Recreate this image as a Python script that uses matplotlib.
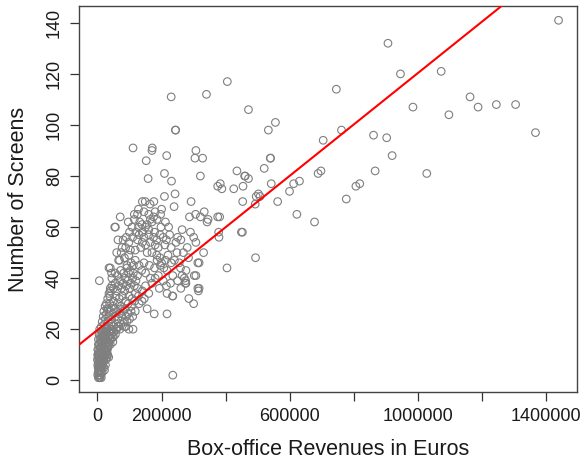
import numpy as np
import matplotlib
matplotlib.use("Agg")
import matplotlib.pyplot as plt
from matplotlib.ticker import FixedLocator, FixedFormatter

# ---- data (revenue in thousands of euros, screens) ----
sparse_rev_k = [1438, 906, 745, 945, 1072, 1162, 1187, 1244, 1304, 984, 1096, 1366, 761, 704, 861, 902,
                919, 1027, 866, 688, 697, 806, 818, 776, 622, 677, 612, 630, 599, 493, 452]
sparse_scr = [141, 132, 114, 120, 121, 111, 107, 108, 108, 107, 104, 97, 98, 94, 96, 95,
              88, 81, 82, 81, 82, 76, 77, 71, 65, 62, 77, 78, 74, 48, 58]

mid_rev_k = [405, 230, 340, 471, 555, 533, 243, 244, 111, 171, 170, 307, 216, 304, 328, 152, 539, 540,
             209, 321, 158, 231, 435, 459, 471, 461, 454, 520, 542, 383, 375, 388, 425, 502, 495, 507,
             209, 242, 453, 562, 492, 292, 239, 140, 149, 164, 115, 125, 71, 54, 200, 197, 306, 321,
             333, 287, 375, 381, 342, 345, 165, 170, 175, 132, 139, 155, 186, 212, 449, 378, 379, 264,
             404, 331, 307, 313, 307, 313, 284, 276, 271, 276, 235, 235, 217, 235, 248, 177, 234, 217,
             193, 274, 275, 302, 315, 317, 146, 155, 118, 139, 317, 200, 207, 217, 259, 264, 186, 6,
             36, 44, 69, 84, 98, 111, 56, 98, 77, 103, 98, 118, 66, 40]
mid_scr = [117, 111, 112, 106, 101, 98, 98, 98, 91, 91, 90, 90, 88, 87, 87, 86, 87, 87,
           81, 80, 79, 78, 82, 80, 79, 80, 76, 83, 77, 77, 76, 75, 75, 73, 72, 72,
           72, 73, 70, 70, 69, 70, 68, 70, 70, 69, 65, 65, 64, 60, 67, 65, 65, 64,
           66, 64, 64, 64, 62, 63, 63, 62, 64, 62, 61, 61, 63, 62, 58, 58, 56, 59,
           44, 50, 54, 46, 41, 36, 48, 43, 40, 38, 41, 33, 26, 2, 50, 26, 33, 34,
           36, 38, 39, 41, 35, 36, 32, 28, 27, 31, 46, 46, 44, 43, 44, 41, 47, 39,
           44, 42, 47, 21, 20, 20, 60, 54, 52, 51, 49, 51, 47, 44]

upper_rev_k = [120, 130, 145, 160, 175, 185, 195, 205, 215, 225, 250, 260, 140, 150, 165, 180, 190, 210,
               230, 245, 125, 135, 155, 170, 185, 195, 220, 240, 255, 110, 100, 90, 80, 150, 160, 178,
               198, 222, 128, 140, 290, 300, 280, 268, 230, 212, 196, 178, 162, 145, 130, 118, 105, 92,
               84, 74, 88, 60, 64, 96, 108, 115, 145, 180, 160, 176, 128, 86, 97, 112, 125, 138, 150,
               165, 180, 190, 205, 215, 228, 250, 260, 285, 300]
upper_scr = [58, 57, 56, 57, 56, 55, 57, 56, 55, 57, 56, 55, 54, 53, 54, 53, 52, 53,
             52, 54, 55, 52, 50, 50, 49, 48, 49, 47, 46, 56, 58, 56, 55, 60, 59, 58,
             60, 60, 60, 58, 58, 56, 52, 50, 46, 47, 45, 44, 45, 46, 45, 47, 46, 45,
             48, 50, 52, 50, 55, 62, 60, 63, 66, 66, 65, 70, 67, 40, 42, 42, 41, 43, 42,
             40, 40, 41, 39, 37, 38, 39, 36, 32, 30]

dense_rev_k = [28, 32, 36, 40, 38, 40, 45, 50, 55, 60, 65, 70, 75, 80, 85, 90, 95, 100, 105, 110, 115,
               120, 125, 45, 55, 62, 72, 82, 92, 102, 112, 50, 58, 68, 78, 88, 98, 108, 118, 128, 38,
               48, 62, 74, 86, 96, 106, 116, 130, 140, 150, 160, 170,
               12, 15, 18, 22, 25, 28, 30, 33, 36, 40, 44, 48, 52, 56, 60, 64, 68, 72, 76, 80, 84, 90,
               95, 100, 105, 110, 20, 24, 34, 42, 50, 58, 66, 74, 88, 92, 60, 70, 40, 30,
               2, 4, 6, 8, 10, 12, 14, 16, 18, 20, 22, 24, 26, 28, 30, 32, 34, 36, 38, 40, 42, 44, 46,
               48, 50, 3, 5, 7, 9, 11, 13, 15, 17, 19, 21, 23, 25, 27, 29, 31, 35, 39, 43, 47, 52, 56,
               58, 1, 3, 5, 8, 10, 12, 14, 16, 18, 20, 22, 24, 26, 28, 30, 33, 37, 41,
               1, 2, 3, 4, 5, 6, 7, 8, 9, 10, 11, 12, 13, 14, 15, 16, 17, 18, 19, 20, 2, 3, 4, 5, 6,
               7, 8, 9, 10, 11, 12, 14, 16, 18, 22, 24, 26, 28, 30, 1, 0, 1, 2, 4, 6, 8, 10, 12, 15,
               20, 25, 22, 32, 35]
dense_scr = [30, 32, 34, 36, 33, 35, 37, 36, 38, 35, 37, 39, 36, 38, 35, 37, 39, 36, 38, 40, 37,
             39, 36, 40, 42, 41, 43, 42, 44, 43, 45, 31, 33, 32, 33, 31, 33, 32, 34, 33, 30,
             29, 30, 29, 28, 30, 29, 31, 30, 35, 37, 34, 38,
             21, 23, 25, 22, 24, 26, 28, 23, 25, 27, 24, 26, 28, 25, 27, 24, 26, 28, 25, 27, 23, 25,
             26, 24, 27, 25, 27, 29, 28, 22, 21, 22, 21, 22, 21, 23, 20, 20, 20, 21,
             10, 12, 14, 16, 18, 11, 13, 15, 17, 19, 12, 14, 16, 18, 20, 13, 15, 17, 19, 14, 16, 18, 20,
             15, 17, 16, 18, 20, 11, 13, 15, 17, 19, 12, 14, 16, 18, 20, 11, 12, 14, 16, 19, 17, 19, 18,
             20, 12, 14, 11, 13, 15, 17, 19, 11, 13, 15, 17, 19, 11, 13, 15, 17, 19, 20,
             2, 3, 1, 4, 2, 5, 3, 6, 4, 7, 5, 8, 6, 9, 7, 10, 8, 9, 10, 8, 5, 7, 9, 6, 8,
             10, 2, 3, 4, 6, 3, 5, 6, 7, 9, 10, 8, 10, 9, 6, 8, 10, 9, 7, 1, 1, 2, 1, 3,
             5, 6, 4, 10, 9]

revenue = np.array(sparse_rev_k + mid_rev_k + upper_rev_k + dense_rev_k, dtype=float) * 1000
screens = np.array(sparse_scr + mid_scr + upper_scr + dense_scr, dtype=float)

fit_intercept = 19.7
fit_slope = 1.007e-4

x_ticks = [0, 200000, 400000, 600000, 800000, 1000000, 1200000, 1400000]
x_tick_labels = ["0", "200000", "", "600000", "", "1000000", "", "1400000"]
y_ticks = [0, 20, 40, 60, 80, 100, 120, 140]
y_tick_labels = ["0", "20", "40", "60", "80", "100", "120", "140"]

# ---- figure ----
plt.rcParams['font.family'] = ['Liberation Sans', 'DejaVu Sans']
fig = plt.figure(figsize=(5.86, 4.62), dpi=100)
ax = fig.add_axes([79/586, 1-392/462, (577-79)/586, (392-6)/462])

ax.scatter(revenue, screens, s=30, facecolors='none', edgecolors='#7f7f7f', linewidths=0.8, zorder=2)
ax.axline((0, fit_intercept), slope=fit_slope, color='#ff0000', lw=1.5, zorder=3)

xr = revenue.max() - revenue.min()
yr = screens.max() - screens.min()
ax.set_xlim(revenue.min() - 0.04*xr, revenue.max() + 0.04*xr)
ax.set_ylim(screens.min() - 0.04*yr, screens.max() + 0.04*yr)

ax.xaxis.set_major_locator(FixedLocator(x_ticks))
ax.xaxis.set_major_formatter(FixedFormatter(x_tick_labels))
ax.yaxis.set_major_locator(FixedLocator(y_ticks))
ax.yaxis.set_major_formatter(FixedFormatter(y_tick_labels))

ax.tick_params(axis='both', direction='out', length=6.5, width=0.9, colors='#333333',
               labelcolor='#1a1a1a', labelsize=13, pad=5)
ax.tick_params(axis='y', labelrotation=90)
for lab in ax.get_yticklabels():
    lab.set_va('center')

for sp in ax.spines.values():
    sp.set_color('#444444')
    sp.set_linewidth(1.0)

ax.set_xlabel("Box-office Revenues in Euros", fontsize=15.5, color='#1a1a1a', labelpad=10)
ax.set_ylabel("Number of Screens", fontsize=15.5, color='#1a1a1a', labelpad=12)

fig.savefig("out.png", dpi=100)
